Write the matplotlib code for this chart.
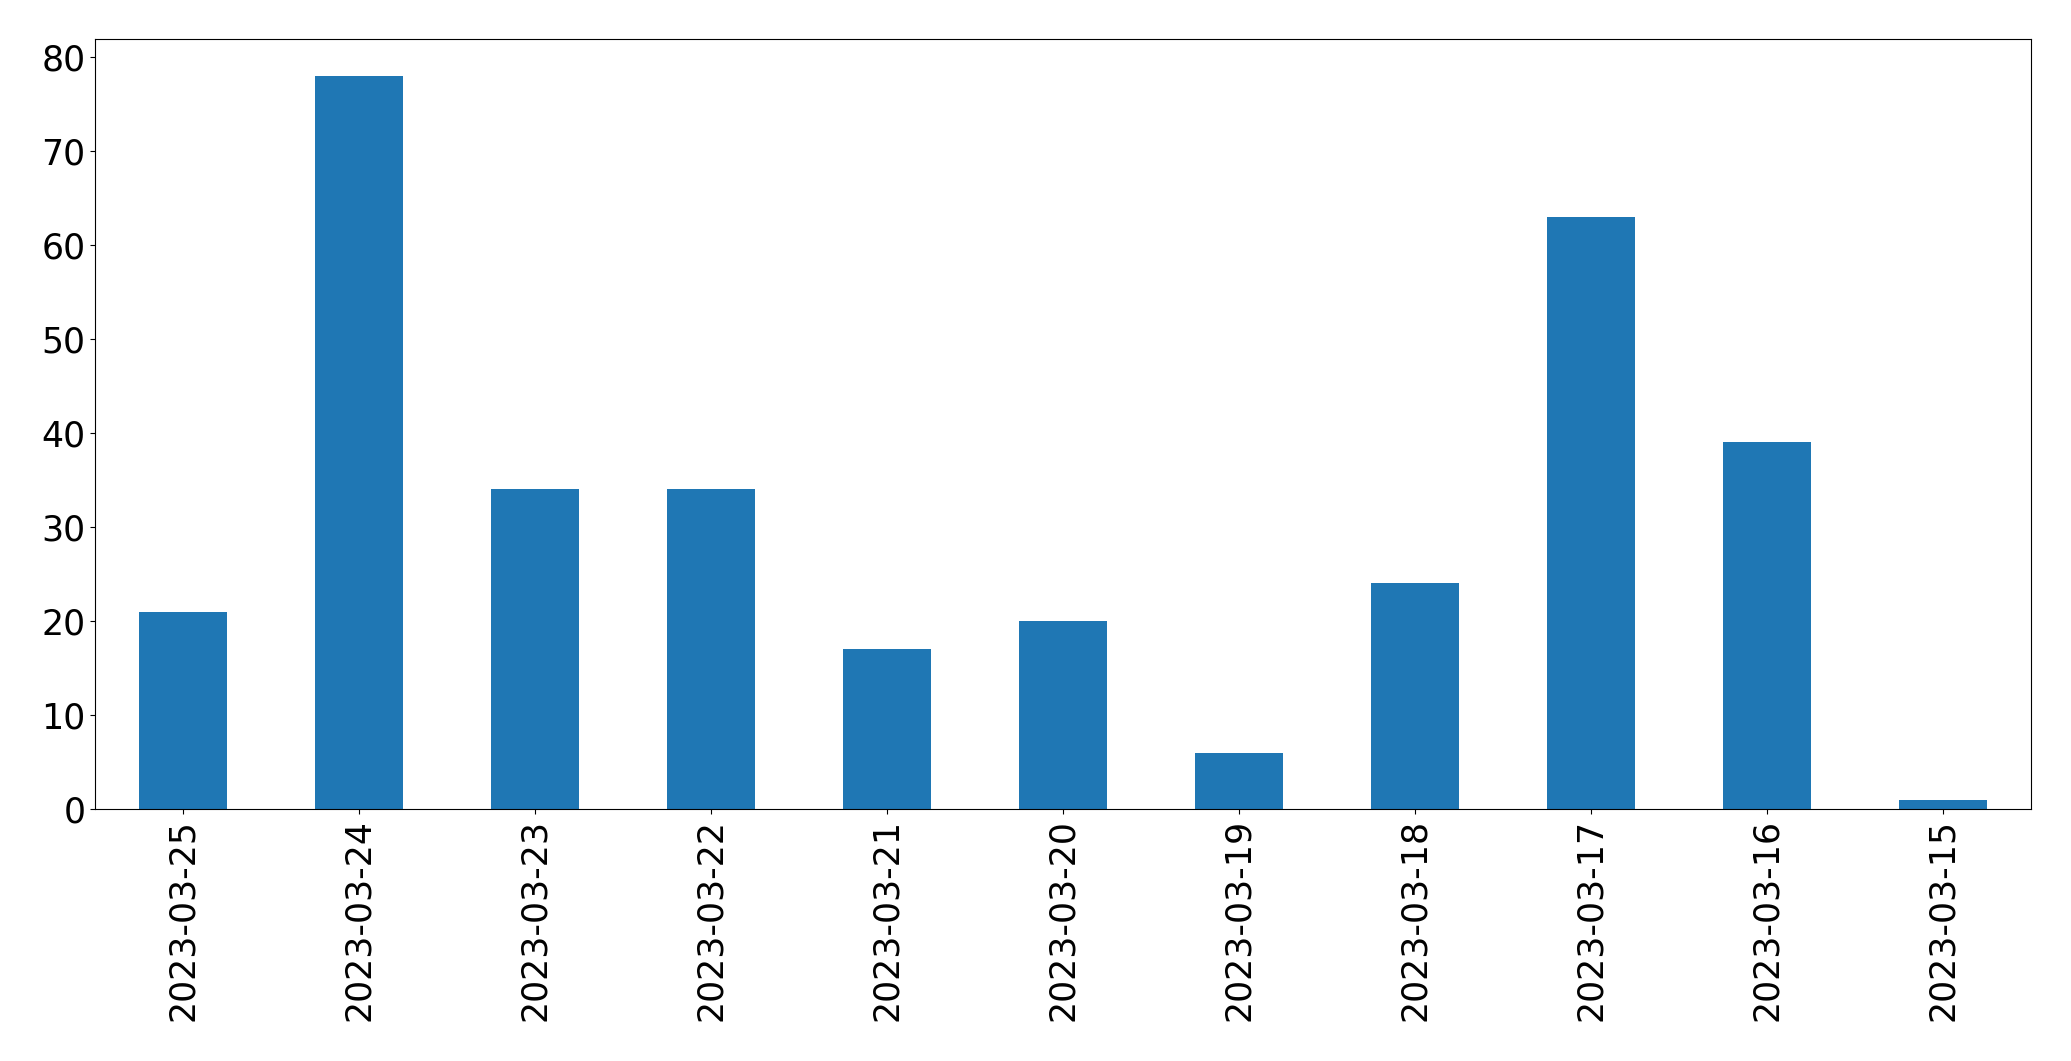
import matplotlib
matplotlib.use('Agg')
import matplotlib.pyplot as plt

# Daily counts, newest first
dates = ['2023-03-25', '2023-03-24', '2023-03-23', '2023-03-22', '2023-03-21',
         '2023-03-20', '2023-03-19', '2023-03-18', '2023-03-17', '2023-03-16',
         '2023-03-15']
counts = [21, 78, 34, 34, 17, 20, 6, 24, 63, 39, 1]

fig = plt.figure(figsize=(20.71, 10.61), dpi=100)
ax = fig.add_axes([0.0459, 0.2375, 0.9348, 0.7257])

xs = list(range(len(dates)))
ax.bar(xs, counts, width=0.5, color='#1f77b4')
ax.set_xlim(-0.5, len(dates) - 0.5)
ax.set_ylim(0, max(counts) * 1.05)
ax.set_xticks(xs)
ax.set_xticklabels(dates, rotation=90)
ax.tick_params(axis='both', labelsize=25)

fig.savefig('out.png', dpi=100)
